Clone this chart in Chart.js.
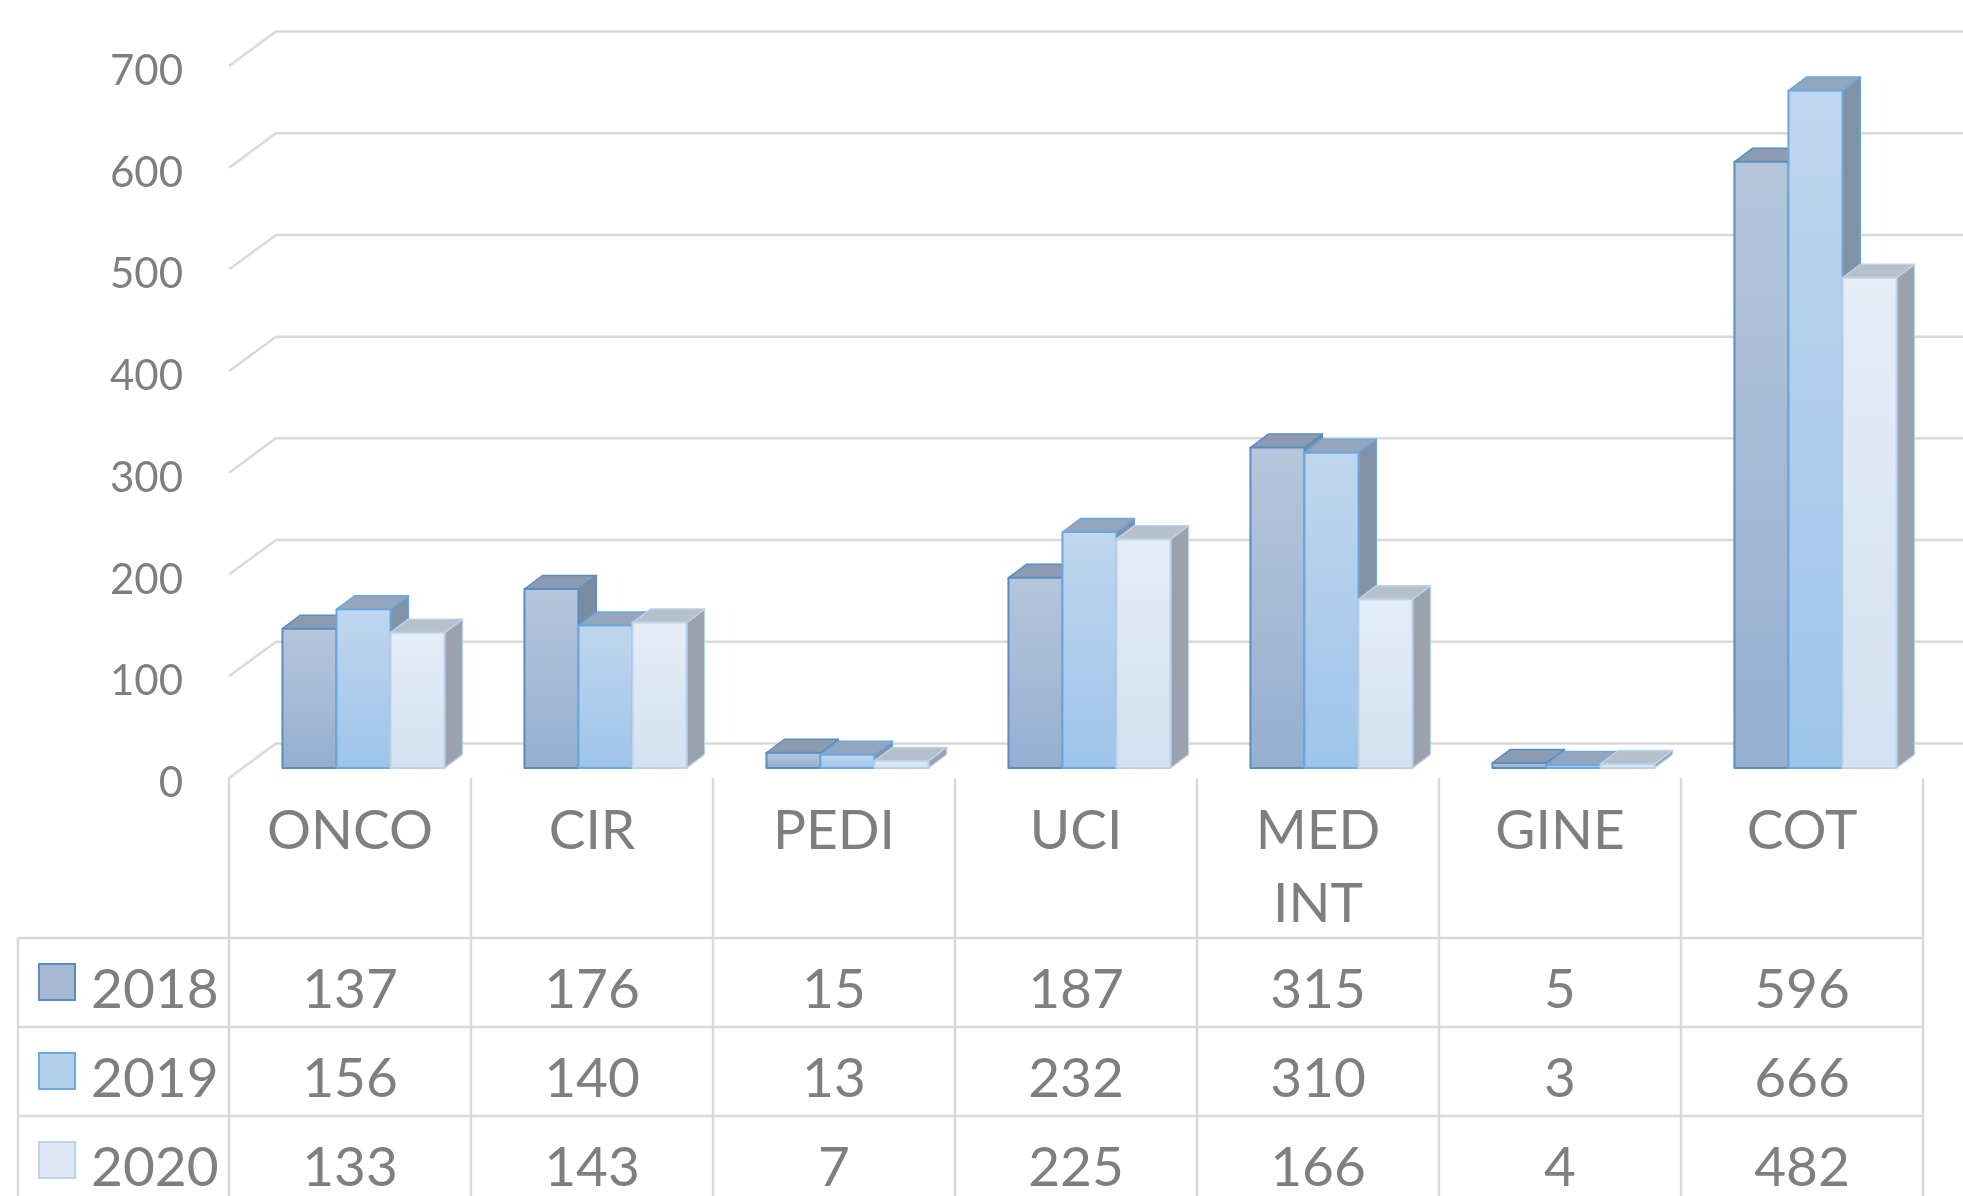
<!DOCTYPE html>
<html>
<head>
<meta charset="utf-8">
<script src="https://cdn.jsdelivr.net/npm/chart.js@4/dist/chart.umd.min.js"></script>
<style>
html,body{margin:0;padding:0;background:#ffffff;overflow:hidden}
#wrap{width:1963px;height:1196px;position:relative}
</style>
</head>
<body>
<div id="wrap"><canvas id="c" width="1963" height="1196"></canvas></div>
<script>
// ---- data ----
const categories = [['ONCO'], ['CIR'], ['PEDI'], ['UCI'], ['MED', 'INT'], ['GINE'], ['COT']];
const seriesNames = ['2018', '2019', '2020'];
const values2018 = [137, 176, 15, 187, 315, 5, 596];
const values2019 = [156, 140, 13, 232, 310, 3, 666];
const values2020 = [133, 143, 7, 225, 166, 4, 482];
const yTicks = [0, 100, 200, 300, 400, 500, 600, 700];

// ---- styles ----
const seriesStyle = [
  {top: '#b5c6dc', bottom: '#95afd0', border: '#5b8cc0', cap: '#8b9cb2', side: '#7a8ba2', box: '#a6b9d4'},
  {top: '#c0d6ee', bottom: '#9ec4ea', border: '#6aa8de', cap: '#93a6bd', side: '#8192a8', box: '#b2cfec'},
  {top: '#e5edf7', bottom: '#d3e1f2', border: '#bcd2ea', cap: '#b6c0cb', side: '#9aa2ad', box: '#dfe8f4'}
];
const TEXT = '#7f7f7f';
const GRID = '#d9d9d9';
const FONT = 'Lato, "Open Sans", sans-serif';
const DX = 18, DY = 13.5;            // bar depth
const WALL_FRONT = {dx: -13.5, dy: 10};
const WALL_BACK = {dx: 33.5, dy: -24.5};

function capText(ctx, txt, x, yc, size, align) {
  ctx.font = size + 'px ' + FONT;
  ctx.textAlign = align;
  ctx.textBaseline = 'alphabetic';
  ctx.fillText(txt, x, yc + 0.358 * size);
}

const excel3d = {
  id: 'excel3d',
  beforeDatasetsDraw(chart) {
    const ctx = chart.ctx;
    const xs = chart.scales.x, ys = chart.scales.y;
    const W = chart.width, H = chart.height;
    const left = chart.chartArea.left;
    ctx.save();
    // back wall gridlines + left wall diagonals
    ctx.strokeStyle = GRID;
    ctx.lineWidth = 2.5;
    yTicks.forEach(v => {
      const yb = ys.getPixelForValue(v);
      const fx = left + WALL_FRONT.dx, fy = yb + WALL_FRONT.dy;
      const bx = left + WALL_BACK.dx, by = yb + WALL_BACK.dy;
      ctx.beginPath();
      ctx.moveTo(fx, fy);
      ctx.lineTo(bx, by);
      ctx.lineTo(W + 5, by);
      ctx.stroke();
    });
    // y tick labels
    ctx.fillStyle = TEXT;
    yTicks.forEach(v => {
      const fy = ys.getPixelForValue(v) + WALL_FRONT.dy;
      capText(ctx, String(v), 183, fy + 4, 42, 'right');
    });
    // data table
    const colW = xs.getPixelForValue(1) - xs.getPixelForValue(0);
    const colX0 = xs.getPixelForValue(0) - colW / 2 + WALL_FRONT.dx;
    const floorY = ys.getPixelForValue(0) + WALL_FRONT.dy;
    const headerH = 160, rowH = 89;
    const tableLeft = 18;
    const tableRight = colX0 + categories.length * colW;
    ctx.strokeStyle = GRID;
    ctx.lineWidth = 2.5;
    for (let i = 0; i <= categories.length; i++) {
      const x = colX0 + i * colW;
      ctx.beginPath(); ctx.moveTo(x, floorY); ctx.lineTo(x, H + 5); ctx.stroke();
    }
    const rowTops = [0, 1, 2, 3].map(r => floorY + headerH + r * rowH);
    rowTops.forEach(y => {
      ctx.beginPath(); ctx.moveTo(tableLeft, y); ctx.lineTo(tableRight, y); ctx.stroke();
    });
    ctx.beginPath(); ctx.moveTo(tableLeft, rowTops[0]); ctx.lineTo(tableLeft, H + 5); ctx.stroke();
    // category labels
    ctx.fillStyle = TEXT;
    categories.forEach((lines, i) => {
      const cx = xs.getPixelForValue(i) + WALL_FRONT.dx;
      lines.forEach((t, k) => capText(ctx, t, cx, floorY + 51 + k * 73, 55, 'center'));
    });
    // rows
    const seriesValues = [values2018, values2019, values2020];
    seriesValues.forEach((vals, r) => {
      const top = rowTops[r];
      const st = seriesStyle[r];
      // legend key
      ctx.fillStyle = st.box;
      ctx.fillRect(39, top + 26, 36, 36);
      ctx.strokeStyle = st.border;
      ctx.lineWidth = 2;
      ctx.strokeRect(39, top + 26, 36, 36);
      ctx.fillStyle = TEXT;
      capText(ctx, seriesNames[r], 91, top + 50, 55, 'left');
      vals.forEach((v, i) => {
        const cx = xs.getPixelForValue(i) + WALL_FRONT.dx;
        capText(ctx, String(v), cx, top + 50, 55, 'center');
      });
    });
    ctx.restore();
  },
  afterDatasetsDraw(chart) {
    const ctx = chart.ctx;
    const metas = [0, 1, 2].map(d => chart.getDatasetMeta(d));
    ctx.save();
    ctx.lineJoin = 'round';
    for (let i = 0; i < categories.length; i++) {
      for (let d = 0; d < 3; d++) {
        const el = metas[d].data[i];
        const st = seriesStyle[d];
        const x0 = el.x - el.width / 2, x1 = el.x + el.width / 2;
        const yT = el.y, yB = el.base;
        // side
        ctx.beginPath();
        ctx.moveTo(x1, yT); ctx.lineTo(x1 + DX, yT - DY); ctx.lineTo(x1 + DX, yB - DY); ctx.lineTo(x1, yB);
        ctx.closePath();
        ctx.fillStyle = st.side; ctx.fill();
        ctx.strokeStyle = st.border; ctx.lineWidth = 1.2; ctx.stroke();
        // top
        ctx.beginPath();
        ctx.moveTo(x0, yT); ctx.lineTo(x0 + DX, yT - DY); ctx.lineTo(x1 + DX, yT - DY); ctx.lineTo(x1, yT);
        ctx.closePath();
        ctx.fillStyle = st.cap; ctx.fill();
        ctx.strokeStyle = st.border; ctx.lineWidth = 1.5; ctx.stroke();
        // front
        const g = ctx.createLinearGradient(0, yT, 0, yB);
        g.addColorStop(0, st.top); g.addColorStop(1, st.bottom);
        ctx.fillStyle = g;
        ctx.fillRect(x0, yT, x1 - x0, yB - yT);
        ctx.strokeStyle = st.border; ctx.lineWidth = 2;
        ctx.strokeRect(x0, yT, x1 - x0, yB - yT);
      }
    }
    ctx.restore();
  }
};

new Chart(document.getElementById('c'), {
  type: 'bar',
  data: {
    labels: categories,
    datasets: [
      {label: seriesNames[0], data: values2018, backgroundColor: seriesStyle[0].bottom, borderWidth: 0},
      {label: seriesNames[1], data: values2019, backgroundColor: seriesStyle[1].bottom, borderWidth: 0},
      {label: seriesNames[2], data: values2020, backgroundColor: seriesStyle[2].bottom, borderWidth: 0}
    ]
  },
  options: {
    responsive: false,
    devicePixelRatio: 1,
    animation: false,
    layout: {padding: {left: 242.5, right: 26.5, top: 56, bottom: 428}},
    datasets: {bar: {categoryPercentage: 0.67, barPercentage: 1.0}},
    plugins: {legend: {display: false}, tooltip: {enabled: false}, title: {display: false}},
    scales: {
      x: {display: false, offset: true, grid: {display: false}},
      y: {display: false, min: 0, max: 700}
    }
  },
  plugins: [excel3d]
});
</script>
</body>
</html>
